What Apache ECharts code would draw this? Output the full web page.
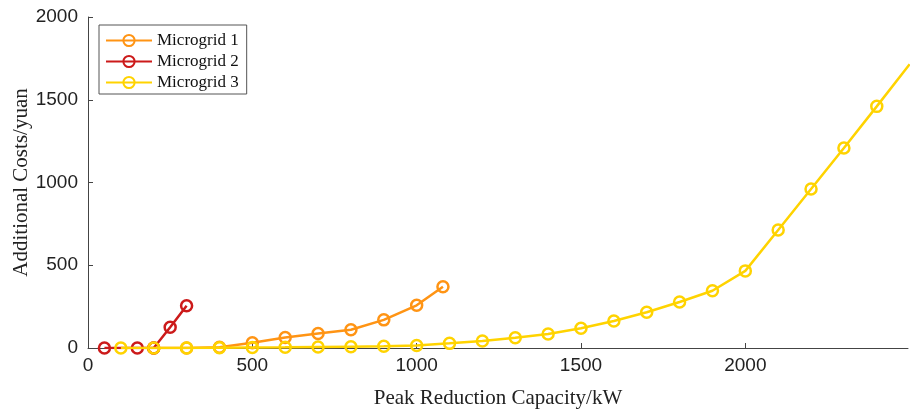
<!DOCTYPE html>
<html><head><meta charset="utf-8">
<script src="https://cdn.jsdelivr.net/npm/echarts@6/dist/echarts.min.js"></script>
<style>html,body{margin:0;padding:0;background:#fff}#c{width:912px;height:412px}</style>
</head><body><div id="c"></div>
<script>
var seriesNames = ['Microgrid 1', 'Microgrid 2', 'Microgrid 3'];
var mg1X = [200, 300, 400, 500, 600, 700, 800, 900, 1000, 1080];
var mg1Y = [0, 0, 5, 32, 64, 87, 110, 170, 258, 370];
var mg2X = [50, 150, 200, 250, 300];
var mg2Y = [0, 0, 0, 125, 255];
var mg3X = [100, 200, 300, 400, 500, 600, 700, 800, 900, 1000, 1100, 1200, 1300, 1400, 1500, 1600, 1700, 1800, 1900, 2000, 2100, 2200, 2300, 2400, 2500];
var mg3Y = [0, 0, 0, 2, 3, 4, 6, 8, 10, 15, 28, 42, 62, 85, 119, 163, 216, 278, 346, 466, 713, 961, 1209, 1460, 1715];
var colors = ['#FF9414', '#CC1A1A', '#FFD300'];

function pairs(xs, ys){ return xs.map(function(x,i){ return [x, ys[i]]; }); }

var chart = echarts.init(document.getElementById('c'));
var mk = function(name, xs, ys, color, z){
  return {
    name: name, type: 'line', data: pairs(xs, ys), z: z,
    symbol: 'circle', symbolSize: 11, showSymbol: true, clip: true,
    lineStyle: {color: color, width: 2.5},
    itemStyle: {color: 'rgba(255,255,255,0)', borderColor: color, borderWidth: 2.5},
    color: color, emphasis: {disabled: true}
  };
};
chart.setOption({
  animation: false,
  grid: {left: 88, right: 4, top: 17, bottom: 64, outerBoundsMode: 'none', containLabel: false},
  legend: {
    orient: 'vertical', left: 99, top: 25,
    data: seriesNames,
    itemWidth: 46, itemHeight: 14, itemGap: 4,
    borderColor: '#555', borderWidth: 1, padding: [7, 8, 3, 6],
    backgroundColor: '#fff',
    textStyle: {fontFamily: 'Liberation Serif', fontSize: 17, color: '#111'}
  },
  xAxis: {
    type: 'value', min: 0, max: 2495, interval: 500,
    name: 'Peak Reduction Capacity/kW', nameLocation: 'middle', nameGap: 40,
    nameTextStyle: {fontFamily: 'Liberation Serif', fontSize: 21, color: '#222'},
    axisLine: {show: true, lineStyle: {color: '#444', width: 1}},
    axisTick: {show: true, inside: true, length: 5, lineStyle: {color: '#444'}},
    axisLabel: {showMaxLabel: false, fontFamily: 'Liberation Sans', fontSize: 19, color: '#222', margin: 8,
      formatter: function(v){ return String(v); }},
    splitLine: {show: false}
  },
  yAxis: {
    type: 'value', min: 0, max: 2000, interval: 500,
    name: 'Additional Costs/yuan', nameLocation: 'middle', nameGap: 56, nameMoveOverlap: false,
    nameTextStyle: {fontFamily: 'Liberation Serif', fontSize: 21, color: '#222'},
    axisLine: {show: true, lineStyle: {color: '#444', width: 1}},
    axisTick: {show: true, inside: true, length: 5, lineStyle: {color: '#444'}},
    axisLabel: {fontFamily: 'Liberation Sans', fontSize: 19, color: '#222', margin: 10,
      formatter: function(v){ return String(v); }},
    splitLine: {show: false}
  },
  series: [
    mk(seriesNames[0], mg1X, mg1Y, colors[0], 2),
    mk(seriesNames[1], mg2X, mg2Y, colors[1], 3),
    mk(seriesNames[2], mg3X, mg3Y, colors[2], 4)
  ]
});
</script></body></html>
